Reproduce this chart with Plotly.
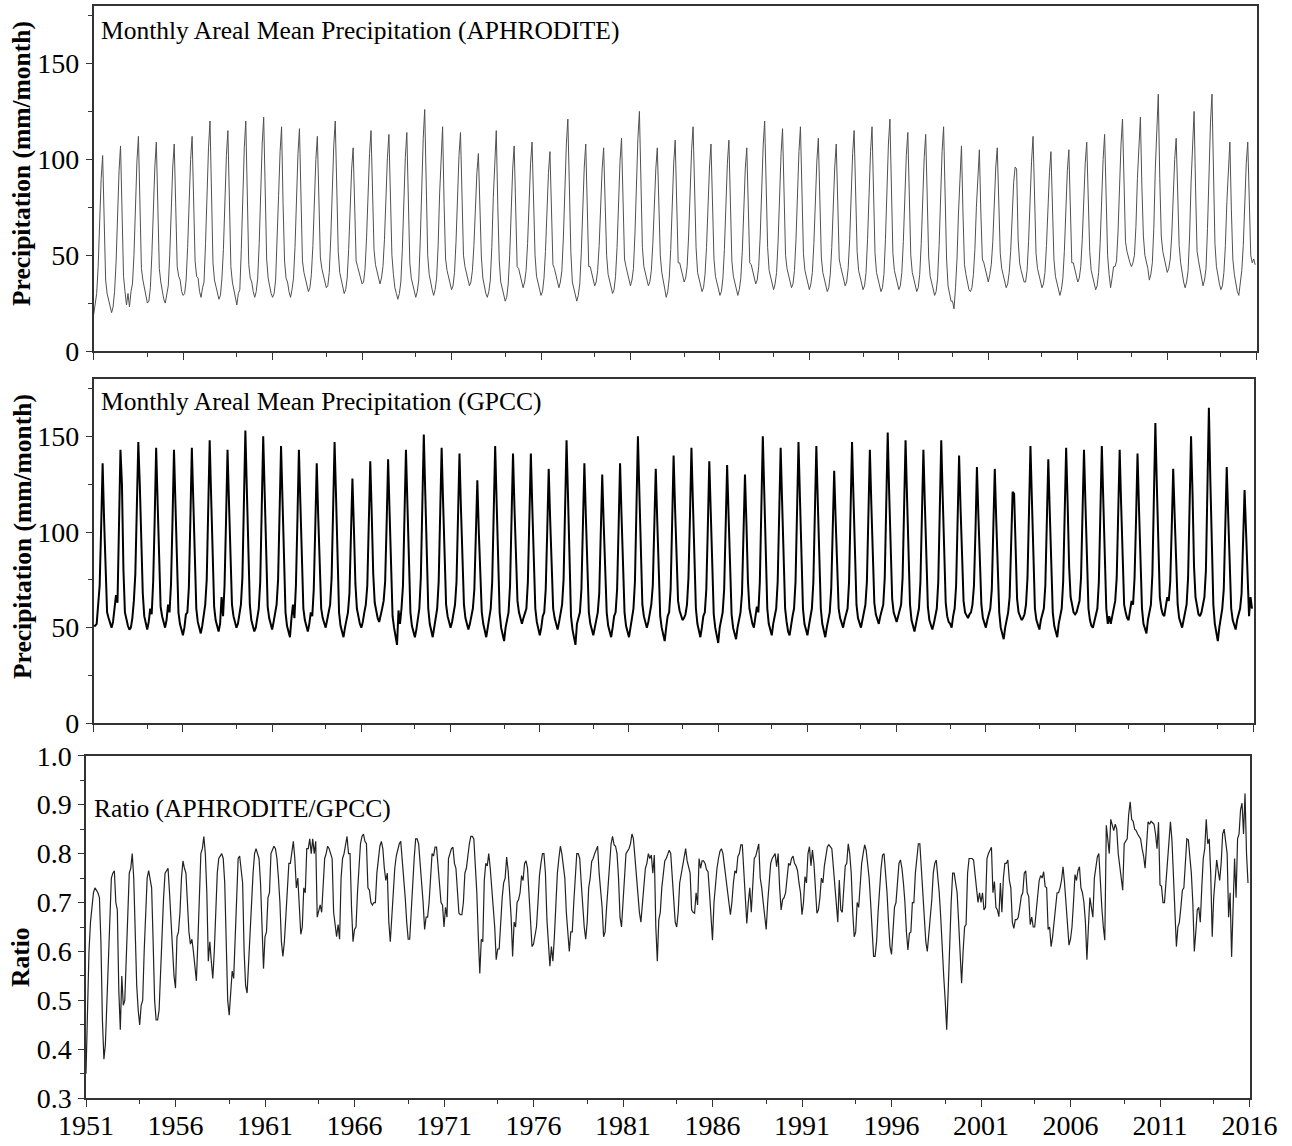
import plotly.graph_objects as go

W, H = 1292, 1146
years = list(range(1951, 2016))
months = list(range(12))

# Monthly areal mean precipitation, APHRODITE (mm/month), one row per year Jan..Dec
aphrodite_rows = [
    [19, 24, 30, 44, 69, 90, 102, 65, 37, 30, 26, 22],
    [20, 23, 31, 46, 72, 94, 107, 68, 39, 31, 24, 30],
    [23, 31, 35, 50, 76, 99, 112, 72, 43, 37, 33, 28],
    [25, 26, 33, 50, 75, 96, 109, 71, 43, 36, 31, 27],
    [25, 29, 34, 50, 74, 96, 108, 71, 44, 39, 37, 31],
    [29, 30, 37, 54, 79, 100, 112, 75, 47, 39, 38, 31],
    [28, 33, 36, 56, 83, 106, 120, 78, 46, 37, 33, 29],
    [27, 29, 38, 53, 80, 102, 115, 75, 44, 36, 32, 27],
    [24, 30, 32, 53, 82, 106, 120, 77, 45, 38, 36, 31],
    [28, 31, 38, 56, 84, 108, 122, 79, 48, 38, 33, 30],
    [28, 30, 37, 55, 81, 104, 117, 77, 47, 38, 36, 31],
    [28, 32, 38, 54, 81, 103, 116, 76, 47, 41, 38, 34],
    [31, 33, 40, 55, 80, 100, 112, 75, 49, 43, 39, 36],
    [33, 34, 41, 59, 85, 107, 120, 80, 52, 41, 37, 33],
    [30, 32, 38, 53, 76, 95, 106, 72, 47, 44, 41, 37],
    [35, 36, 43, 59, 83, 103, 115, 79, 53, 45, 41, 38],
    [35, 38, 44, 58, 82, 101, 113, 77, 50, 40, 33, 30],
    [27, 30, 36, 53, 79, 101, 114, 75, 46, 38, 34, 31],
    [28, 31, 37, 57, 87, 111, 126, 82, 50, 40, 35, 32],
    [29, 32, 38, 55, 82, 104, 117, 77, 48, 42, 39, 35],
    [32, 34, 41, 57, 81, 102, 114, 77, 50, 44, 40, 37],
    [34, 36, 42, 55, 75, 93, 103, 72, 49, 38, 33, 30],
    [28, 31, 37, 54, 80, 102, 115, 76, 47, 36, 32, 28],
    [26, 28, 35, 50, 75, 95, 107, 71, 44, 43, 40, 36],
    [33, 36, 42, 56, 79, 98, 109, 75, 50, 39, 35, 31],
    [29, 31, 38, 52, 74, 93, 104, 70, 45, 43, 39, 36],
    [33, 36, 42, 59, 86, 108, 121, 81, 52, 36, 32, 28],
    [26, 29, 35, 51, 75, 96, 108, 71, 44, 44, 40, 37],
    [34, 36, 42, 55, 77, 95, 106, 73, 50, 40, 36, 32],
    [30, 32, 39, 54, 79, 99, 111, 74, 48, 44, 40, 37],
    [34, 37, 43, 61, 89, 111, 125, 84, 54, 44, 41, 37],
    [34, 36, 42, 56, 77, 95, 106, 73, 50, 41, 36, 32],
    [28, 31, 38, 53, 77, 98, 110, 73, 46, 46, 42, 38],
    [36, 38, 44, 60, 85, 105, 117, 80, 54, 41, 37, 33],
    [31, 33, 40, 54, 77, 96, 108, 73, 48, 39, 35, 31],
    [29, 31, 38, 53, 78, 98, 110, 74, 47, 39, 35, 31],
    [29, 32, 38, 52, 75, 95, 106, 71, 46, 45, 41, 37],
    [35, 37, 44, 60, 86, 107, 120, 82, 54, 42, 38, 34],
    [32, 35, 41, 57, 82, 103, 116, 78, 50, 43, 39, 35],
    [33, 35, 42, 58, 83, 104, 117, 79, 51, 42, 38, 34],
    [32, 35, 41, 56, 79, 99, 111, 75, 49, 41, 37, 33],
    [31, 33, 40, 54, 77, 96, 108, 73, 48, 44, 40, 36],
    [34, 36, 43, 58, 83, 103, 115, 78, 52, 42, 38, 34],
    [32, 34, 41, 58, 83, 104, 117, 79, 51, 41, 37, 33],
    [31, 33, 40, 58, 85, 108, 121, 81, 51, 42, 38, 34],
    [32, 34, 41, 57, 81, 102, 114, 77, 50, 41, 37, 33],
    [31, 33, 40, 56, 80, 101, 113, 76, 49, 39, 35, 31],
    [29, 31, 38, 55, 82, 104, 117, 78, 48, 34, 29, 26],
    [26, 22, 33, 48, 72, 95, 107, 72, 45, 40, 36, 32],
    [31, 33, 40, 53, 75, 94, 105, 72, 48, 46, 42, 39],
    [36, 40, 45, 57, 78, 96, 106, 74, 51, 43, 40, 36],
    [33, 35, 41, 52, 70, 88, 96, 95, 58, 46, 42, 38],
    [36, 36, 42, 57, 80, 99, 112, 76, 51, 43, 39, 35],
    [33, 35, 41, 55, 76, 93, 104, 72, 48, 39, 35, 31],
    [29, 32, 38, 52, 75, 94, 105, 71, 46, 46, 42, 39],
    [36, 38, 44, 58, 80, 98, 109, 76, 52, 42, 38, 34],
    [32, 34, 41, 56, 80, 100, 113, 76, 50, 40, 33, 38],
    [44, 44, 47, 62, 88, 108, 121, 84, 57, 52, 48, 46],
    [44, 46, 50, 65, 90, 110, 122, 86, 60, 50, 47, 43],
    [37, 40, 46, 64, 95, 119, 134, 90, 60, 52, 48, 45],
    [41, 43, 48, 60, 82, 100, 111, 78, 55, 46, 40, 36],
    [33, 36, 42, 60, 88, 111, 125, 85, 52, 47, 43, 39],
    [34, 37, 43, 64, 94, 119, 134, 90, 56, 44, 39, 35],
    [32, 34, 41, 55, 78, 97, 109, 74, 48, 40, 35, 31],
    [29, 36, 42, 55, 78, 98, 109, 75, 50, 46, 48, 45],
]

# Monthly areal mean precipitation, GPCC (mm/month)
gpcc_rows = [
    [51, 51, 52, 60, 72, 102, 136, 106, 76, 58, 55, 52],
    [50, 53, 60, 67, 63, 106, 143, 125, 80, 58, 54, 51],
    [49, 50, 55, 64, 78, 112, 147, 125, 92, 68, 56, 53],
    [49, 53, 60, 57, 74, 106, 144, 115, 80, 61, 56, 52],
    [50, 54, 62, 58, 73, 106, 143, 114, 78, 58, 52, 49],
    [46, 50, 57, 58, 71, 106, 144, 116, 80, 60, 53, 50],
    [47, 51, 56, 62, 75, 112, 148, 118, 82, 61, 54, 50],
    [48, 52, 66, 56, 72, 106, 143, 115, 80, 62, 56, 52],
    [50, 52, 58, 62, 76, 112, 153, 122, 84, 62, 54, 50],
    [48, 50, 56, 60, 74, 110, 150, 120, 82, 61, 55, 51],
    [49, 53, 58, 62, 75, 108, 145, 116, 80, 58, 51, 48],
    [45, 55, 62, 55, 72, 106, 143, 115, 80, 60, 54, 50],
    [48, 52, 58, 56, 70, 102, 136, 108, 76, 60, 55, 52],
    [50, 54, 58, 62, 76, 110, 147, 118, 82, 58, 51, 47],
    [45, 50, 55, 58, 68, 95, 128, 102, 73, 60, 55, 52],
    [50, 53, 58, 62, 72, 103, 137, 109, 78, 63, 58, 55],
    [53, 56, 60, 64, 74, 104, 138, 110, 78, 56, 50, 45],
    [41, 59, 52, 60, 72, 108, 143, 114, 78, 58, 51, 48],
    [45, 49, 56, 60, 76, 114, 151, 120, 82, 60, 52, 48],
    [45, 50, 56, 60, 74, 108, 144, 115, 80, 62, 56, 52],
    [50, 53, 58, 62, 74, 106, 141, 112, 80, 62, 55, 51],
    [49, 52, 57, 60, 70, 96, 127, 100, 72, 58, 52, 48],
    [45, 50, 56, 60, 74, 110, 145, 115, 80, 58, 50, 46],
    [43, 50, 55, 58, 72, 106, 141, 112, 80, 64, 58, 54],
    [52, 55, 58, 60, 74, 106, 141, 112, 80, 60, 53, 49],
    [46, 50, 56, 58, 70, 100, 133, 106, 76, 60, 55, 51],
    [49, 53, 58, 62, 75, 112, 148, 118, 80, 56, 49, 44],
    [41, 52, 56, 58, 70, 102, 136, 108, 76, 58, 52, 48],
    [46, 50, 55, 58, 68, 98, 130, 104, 74, 58, 51, 48],
    [45, 50, 56, 58, 70, 102, 136, 108, 76, 58, 51, 48],
    [45, 50, 56, 60, 74, 112, 150, 120, 82, 62, 56, 52],
    [50, 53, 58, 62, 72, 100, 133, 106, 74, 56, 50, 46],
    [43, 50, 56, 58, 70, 104, 140, 112, 80, 64, 59, 56],
    [54, 55, 57, 62, 76, 108, 144, 115, 80, 60, 52, 48],
    [45, 50, 56, 58, 70, 102, 137, 110, 76, 57, 50, 45],
    [42, 50, 55, 58, 70, 100, 135, 108, 75, 57, 50, 46],
    [44, 50, 55, 58, 68, 97, 130, 104, 74, 60, 55, 52],
    [50, 55, 61, 58, 74, 112, 150, 120, 82, 60, 52, 48],
    [46, 52, 56, 60, 74, 108, 144, 115, 80, 60, 53, 48],
    [46, 52, 56, 60, 74, 110, 147, 117, 80, 60, 52, 48],
    [46, 51, 56, 60, 74, 108, 145, 115, 80, 60, 52, 48],
    [45, 50, 55, 58, 70, 100, 132, 106, 76, 60, 55, 52],
    [50, 54, 57, 60, 74, 110, 147, 117, 82, 62, 55, 52],
    [50, 54, 58, 62, 74, 108, 143, 114, 80, 63, 57, 54],
    [52, 56, 60, 62, 76, 114, 152, 120, 84, 65, 58, 55],
    [53, 56, 60, 62, 76, 112, 148, 118, 82, 62, 54, 50],
    [48, 52, 56, 60, 74, 108, 143, 114, 80, 61, 54, 51],
    [49, 52, 57, 60, 74, 110, 148, 118, 82, 63, 56, 53],
    [52, 50, 56, 60, 72, 106, 140, 112, 80, 64, 58, 56],
    [55, 57, 58, 62, 72, 100, 134, 108, 78, 62, 55, 52],
    [50, 54, 58, 60, 70, 100, 133, 106, 76, 58, 50, 46],
    [44, 50, 55, 58, 66, 92, 121, 120, 84, 65, 58, 56],
    [54, 55, 57, 62, 76, 110, 145, 116, 80, 60, 54, 51],
    [49, 54, 58, 60, 72, 104, 138, 110, 76, 58, 51, 47],
    [45, 52, 56, 60, 74, 108, 144, 115, 82, 66, 61, 58],
    [57, 58, 61, 64, 76, 108, 143, 114, 80, 60, 54, 51],
    [50, 54, 58, 60, 74, 110, 145, 116, 80, 60, 52, 56],
    [52, 56, 62, 64, 76, 108, 143, 114, 80, 62, 58, 55],
    [54, 60, 64, 62, 76, 106, 141, 112, 78, 60, 52, 49],
    [47, 54, 58, 62, 78, 118, 157, 124, 86, 66, 60, 57],
    [56, 60, 66, 64, 74, 102, 133, 108, 78, 62, 55, 52],
    [50, 54, 58, 62, 76, 112, 150, 120, 82, 66, 60, 57],
    [56, 58, 62, 66, 80, 122, 165, 126, 86, 62, 52, 46],
    [43, 50, 56, 60, 70, 102, 134, 108, 76, 60, 54, 51],
    [49, 54, 58, 60, 68, 94, 122, 100, 72, 56, 66, 60],
]

# Ratio APHRODITE / GPCC
ratio_rows = [
    [0.35, 0.48, 0.60, 0.66, 0.69, 0.72, 0.73, 0.725, 0.72, 0.71, 0.62, 0.46],
    [0.38, 0.41, 0.50, 0.58, 0.69, 0.75, 0.76, 0.765, 0.70, 0.685, 0.52, 0.44],
    [0.55, 0.49, 0.50, 0.60, 0.68, 0.76, 0.77, 0.80, 0.75, 0.62, 0.53, 0.48],
    [0.45, 0.49, 0.50, 0.60, 0.70, 0.75, 0.765, 0.75, 0.73, 0.62, 0.50, 0.46],
    [0.46, 0.48, 0.56, 0.65, 0.71, 0.76, 0.765, 0.77, 0.72, 0.66, 0.62, 0.55],
    [0.525, 0.63, 0.64, 0.68, 0.75, 0.785, 0.77, 0.76, 0.70, 0.64, 0.615, 0.625],
    [0.60, 0.57, 0.54, 0.62, 0.72, 0.80, 0.81, 0.835, 0.80, 0.72, 0.58, 0.62],
    [0.58, 0.545, 0.60, 0.70, 0.76, 0.79, 0.795, 0.80, 0.79, 0.74, 0.62, 0.50],
    [0.47, 0.52, 0.56, 0.545, 0.64, 0.74, 0.79, 0.795, 0.77, 0.74, 0.60, 0.53],
    [0.515, 0.58, 0.65, 0.70, 0.76, 0.80, 0.81, 0.80, 0.79, 0.74, 0.63, 0.565],
    [0.63, 0.64, 0.71, 0.72, 0.80, 0.81, 0.815, 0.81, 0.79, 0.75, 0.70, 0.62],
    [0.59, 0.62, 0.67, 0.72, 0.78, 0.78, 0.81, 0.825, 0.79, 0.73, 0.75, 0.70],
    [0.635, 0.65, 0.73, 0.72, 0.81, 0.81, 0.83, 0.80, 0.83, 0.80, 0.825, 0.67],
    [0.68, 0.695, 0.68, 0.73, 0.79, 0.80, 0.815, 0.81, 0.80, 0.79, 0.68, 0.66],
    [0.63, 0.655, 0.625, 0.75, 0.79, 0.80, 0.82, 0.835, 0.80, 0.80, 0.69, 0.62],
    [0.645, 0.65, 0.72, 0.78, 0.82, 0.835, 0.84, 0.825, 0.82, 0.73, 0.725, 0.70],
    [0.695, 0.70, 0.70, 0.76, 0.79, 0.815, 0.825, 0.81, 0.77, 0.745, 0.76, 0.66],
    [0.62, 0.67, 0.72, 0.77, 0.795, 0.81, 0.82, 0.825, 0.79, 0.75, 0.71, 0.66],
    [0.625, 0.625, 0.68, 0.75, 0.79, 0.83, 0.83, 0.82, 0.78, 0.75, 0.70, 0.645],
    [0.67, 0.67, 0.70, 0.75, 0.80, 0.795, 0.813, 0.813, 0.78, 0.74, 0.70, 0.695],
    [0.65, 0.69, 0.67, 0.79, 0.80, 0.81, 0.813, 0.78, 0.77, 0.72, 0.678, 0.675],
    [0.675, 0.70, 0.76, 0.77, 0.80, 0.82, 0.835, 0.835, 0.83, 0.78, 0.72, 0.63],
    [0.555, 0.625, 0.62, 0.745, 0.78, 0.775, 0.80, 0.77, 0.73, 0.70, 0.65, 0.583],
    [0.605, 0.605, 0.67, 0.71, 0.74, 0.75, 0.793, 0.765, 0.72, 0.67, 0.59, 0.66],
    [0.65, 0.70, 0.706, 0.72, 0.755, 0.745, 0.78, 0.785, 0.77, 0.72, 0.655, 0.61],
    [0.615, 0.63, 0.65, 0.70, 0.755, 0.78, 0.80, 0.80, 0.76, 0.665, 0.62, 0.57],
    [0.61, 0.58, 0.63, 0.70, 0.76, 0.79, 0.815, 0.80, 0.78, 0.75, 0.68, 0.63],
    [0.60, 0.64, 0.64, 0.70, 0.76, 0.80, 0.80, 0.79, 0.74, 0.69, 0.65, 0.625],
    [0.66, 0.73, 0.75, 0.784, 0.79, 0.80, 0.81, 0.815, 0.76, 0.72, 0.69, 0.63],
    [0.64, 0.69, 0.73, 0.77, 0.82, 0.835, 0.818, 0.815, 0.80, 0.75, 0.67, 0.65],
    [0.70, 0.76, 0.80, 0.805, 0.81, 0.82, 0.84, 0.83, 0.79, 0.755, 0.72, 0.68],
    [0.66, 0.70, 0.74, 0.77, 0.78, 0.80, 0.79, 0.797, 0.76, 0.797, 0.65, 0.58],
    [0.665, 0.68, 0.73, 0.765, 0.785, 0.79, 0.80, 0.807, 0.80, 0.75, 0.70, 0.66],
    [0.65, 0.68, 0.74, 0.76, 0.78, 0.80, 0.81, 0.785, 0.775, 0.76, 0.685, 0.68],
    [0.678, 0.72, 0.695, 0.79, 0.77, 0.785, 0.785, 0.78, 0.767, 0.763, 0.72, 0.67],
    [0.623, 0.70, 0.745, 0.77, 0.79, 0.805, 0.81, 0.80, 0.775, 0.745, 0.73, 0.70],
    [0.675, 0.70, 0.74, 0.765, 0.76, 0.794, 0.80, 0.818, 0.818, 0.765, 0.735, 0.657],
    [0.70, 0.73, 0.68, 0.75, 0.79, 0.795, 0.81, 0.82, 0.75, 0.73, 0.70, 0.67],
    [0.645, 0.70, 0.75, 0.78, 0.79, 0.795, 0.80, 0.773, 0.80, 0.73, 0.685, 0.706],
    [0.71, 0.72, 0.75, 0.78, 0.776, 0.79, 0.795, 0.78, 0.775, 0.765, 0.74, 0.72],
    [0.675, 0.70, 0.753, 0.74, 0.80, 0.814, 0.775, 0.807, 0.78, 0.73, 0.678, 0.685],
    [0.71, 0.75, 0.74, 0.775, 0.80, 0.814, 0.818, 0.815, 0.81, 0.773, 0.73, 0.69],
    [0.66, 0.746, 0.685, 0.68, 0.74, 0.775, 0.78, 0.82, 0.80, 0.76, 0.68, 0.63],
    [0.64, 0.70, 0.69, 0.75, 0.78, 0.80, 0.818, 0.807, 0.78, 0.75, 0.70, 0.64],
    [0.59, 0.59, 0.62, 0.68, 0.73, 0.77, 0.797, 0.80, 0.76, 0.72, 0.66, 0.61],
    [0.594, 0.64, 0.69, 0.70, 0.75, 0.78, 0.787, 0.77, 0.74, 0.70, 0.64, 0.603],
    [0.637, 0.64, 0.70, 0.70, 0.76, 0.79, 0.82, 0.82, 0.77, 0.74, 0.68, 0.62],
    [0.60, 0.63, 0.67, 0.705, 0.76, 0.78, 0.787, 0.76, 0.72, 0.67, 0.59, 0.55],
    [0.50, 0.44, 0.52, 0.63, 0.70, 0.76, 0.76, 0.74, 0.72, 0.66, 0.60, 0.535],
    [0.60, 0.65, 0.655, 0.76, 0.79, 0.79, 0.79, 0.787, 0.76, 0.72, 0.70, 0.72],
    [0.70, 0.72, 0.685, 0.69, 0.79, 0.80, 0.808, 0.813, 0.72, 0.743, 0.69, 0.685],
    [0.671, 0.74, 0.68, 0.75, 0.78, 0.78, 0.787, 0.746, 0.73, 0.66, 0.647, 0.665],
    [0.665, 0.67, 0.69, 0.713, 0.72, 0.76, 0.765, 0.72, 0.712, 0.655, 0.67, 0.65],
    [0.65, 0.68, 0.71, 0.745, 0.755, 0.75, 0.763, 0.733, 0.73, 0.645, 0.65, 0.61],
    [0.63, 0.665, 0.69, 0.72, 0.72, 0.73, 0.746, 0.773, 0.74, 0.70, 0.65, 0.613],
    [0.625, 0.65, 0.70, 0.757, 0.745, 0.765, 0.773, 0.73, 0.72, 0.70, 0.66, 0.583],
    [0.65, 0.71, 0.69, 0.67, 0.75, 0.776, 0.793, 0.80, 0.73, 0.69, 0.65, 0.623],
    [0.858, 0.83, 0.80, 0.87, 0.855, 0.847, 0.86, 0.85, 0.80, 0.77, 0.75, 0.725],
    [0.82, 0.825, 0.83, 0.88, 0.906, 0.87, 0.866, 0.85, 0.847, 0.84, 0.835, 0.83],
    [0.81, 0.795, 0.77, 0.82, 0.865, 0.86, 0.866, 0.863, 0.86, 0.84, 0.81, 0.864],
    [0.736, 0.733, 0.70, 0.70, 0.74, 0.80, 0.84, 0.865, 0.828, 0.746, 0.675, 0.61],
    [0.65, 0.66, 0.69, 0.725, 0.73, 0.77, 0.83, 0.828, 0.80, 0.76, 0.70, 0.60],
    [0.64, 0.685, 0.69, 0.66, 0.73, 0.79, 0.81, 0.87, 0.82, 0.83, 0.76, 0.63],
    [0.71, 0.75, 0.787, 0.765, 0.745, 0.78, 0.84, 0.85, 0.828, 0.80, 0.67, 0.72],
    [0.589, 0.72, 0.79, 0.71, 0.83, 0.84, 0.89, 0.903, 0.84, 0.923, 0.80, 0.74],
]

x_tick_labels = [str(y) for y in range(1951, 2017, 5)]
panel_titles = ["Monthly Areal Mean Precipitation (APHRODITE)",
                "Monthly Areal Mean Precipitation (GPCC)",
                "Ratio (APHRODITE/GPCC)"]
y_titles = ["Precipitation (mm/month)", "Precipitation (mm/month)", "Ratio"]


def flat(rows):
    return [v for r in rows for v in r]


time = [y + m / 12.0 for y in years for m in months]

FONT = "Liberation Serif, Times New Roman, serif"
AX = "#333333"

def fx(p):
    return p / W

def fy(p):
    return 1 - p / H

fig = go.Figure()
fig.add_trace(go.Scatter(x=time, y=flat(aphrodite_rows), mode="lines",
                         line=dict(color="#505050", width=1), xaxis="x", yaxis="y"))
fig.add_trace(go.Scatter(x=time, y=flat(gpcc_rows), mode="lines",
                         line=dict(color="#000000", width=2), xaxis="x2", yaxis="y2"))
fig.add_trace(go.Scatter(x=time, y=flat(ratio_rows), mode="lines",
                         line=dict(color="#222222", width=1.2), xaxis="x3", yaxis="y3"))

def xaxis(dom, anchor, labels):
    return dict(domain=[fx(dom[0]), fx(dom[1])], anchor=anchor, range=[1951, 2016],
                tickmode="array", tickvals=[int(t) for t in x_tick_labels], ticktext=x_tick_labels,
                showticklabels=labels, ticks="outside", ticklen=7, tickwidth=1.3, tickcolor=AX,
                showline=True, linecolor=AX, linewidth=1.5, mirror=True,
                showgrid=False, zeroline=False, automargin=False,
                tickfont=dict(family=FONT, size=28, color="black"),
                ticklabelstandoff=-6,
                minor=dict(tickmode="linear", tick0=1954, dtick=5, ticks="outside", ticklen=4,
                           tickwidth=1.2, tickcolor=AX, showgrid=False))

def yaxis(top, bottom, anchor, rng, dtick, mdtick, fmt):
    return dict(domain=[fy(bottom), fy(top)], anchor=anchor, range=rng,
                tick0=rng[0], dtick=dtick, tickformat=fmt,
                ticks="outside", ticklen=6, tickwidth=1.3, tickcolor=AX,
                showline=True, linecolor=AX, linewidth=1.5, mirror=True,
                showgrid=False, zeroline=False, automargin=False,
                tickfont=dict(family=FONT, size=28, color="black"),
                ticklabelstandoff=1,
                minor=dict(tick0=rng[0], dtick=mdtick, ticks="outside", ticklen=4,
                           tickwidth=1.2, tickcolor=AX, showgrid=False))

annotations = []
ann_pos = [(99, 31), (99, 401), (92, 808)]
for t, (ax_, ay_) in zip(panel_titles, ann_pos):
    annotations.append(dict(text=t, x=fx(ax_), y=fy(ay_), xref="paper", yref="paper",
                            xanchor="left", yanchor="middle", showarrow=False,
                            font=dict(family=FONT, size=25.5, color="black")))
ytitle_pos = [(22, 164), (22, 537), (20, 957)]
for t, (ax_, ay_) in zip(y_titles, ytitle_pos):
    annotations.append(dict(text="<b>%s</b>" % t, x=fx(ax_), y=fy(ay_), xref="paper", yref="paper",
                            xanchor="center", yanchor="middle", showarrow=False, textangle=-90,
                            font=dict(family=FONT, size=25.5, color="black")))

fig.update_layout(
    width=W, height=H,
    margin=dict(l=0, r=0, t=0, b=0),
    paper_bgcolor="white", plot_bgcolor="white",
    showlegend=False, hovermode=False,
    font=dict(family=FONT, color="black"),
    xaxis=xaxis((93.7, 1256.7), "y", False),
    xaxis2=xaxis((93.7, 1253.5), "y2", False),
    xaxis3=xaxis((86, 1249.5), "y3", True),
    yaxis=yaxis(6, 351, "x", [0, 180], 50, 25, None),
    yaxis2=yaxis(379, 723.3, "x2", [0, 180], 50, 25, None),
    yaxis3=yaxis(755.7, 1098.3, "x3", [0.3, 1.0], 0.1, 0.05, ".1f"),
    annotations=annotations,
)

fig.write_html("out.html")
